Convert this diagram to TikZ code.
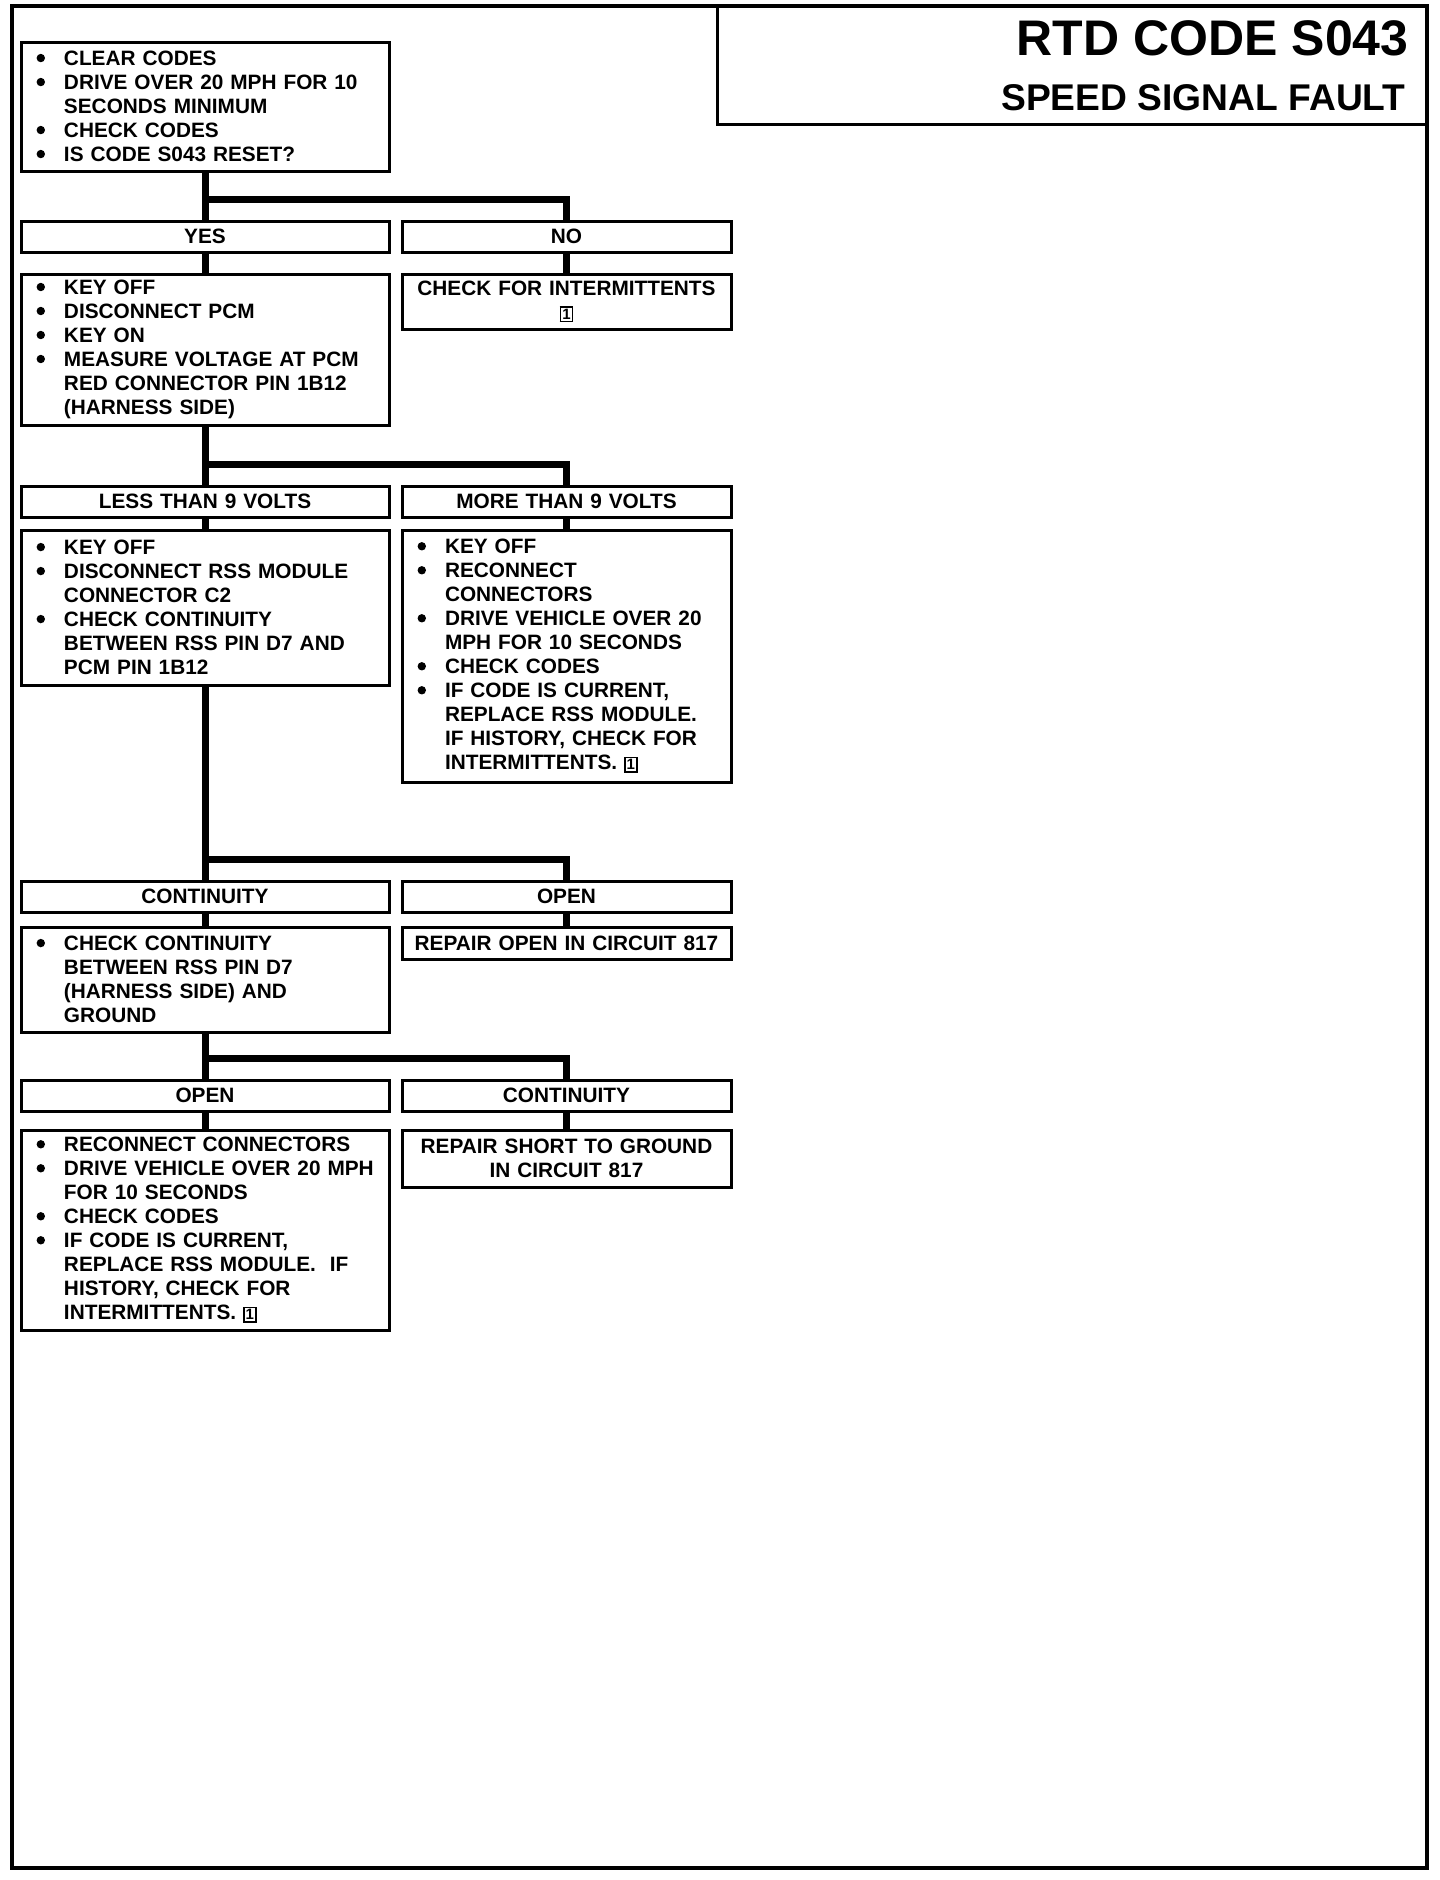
\documentclass[tikz,border=0pt]{standalone}
\usepackage{fontspec}
\setmainfont{Liberation Sans}
\usetikzlibrary{positioning}
\definecolor{scanBlack}{HTML}{000000}
\newcommand{\bl}{\makebox[20.5pt][l]{\hspace{6.8pt}\tikz[baseline=-3.8pt]\fill[scanBlack] (0,0) circle (2.1pt);}}
\newcommand{\cl}{\makebox[20.5pt]{}}
\newcommand{\refone}{{\fboxsep=0.7pt\fboxrule=0.7pt\fbox{\fontsize{7.5}{7.5}\selectfont\makebox[4pt]{1}}}}

\begin{document}
\begin{tikzpicture}[font=\bfseries\fontsize{10.4}{12}\selectfont,
      stepbox/.style={draw=scanBlack, line width=1.5pt, align=left, inner xsep=1pt, inner ysep=0pt, outer sep=0pt},
      leftcol/.style={text width=182pt},
      rightcol/.style={text width=162.5pt},
      answer/.style={stepbox, align=center, minimum height=15.5pt},
      titlebox/.style={draw=scanBlack, line width=1.5pt, inner sep=0pt, outer sep=0pt},
      wire/.style={line width=3.5pt, scanBlack}]
    \useasboundingbox (0,0) rectangle (720pt,-940pt);
    \draw[line width=2pt, scanBlack] (6pt,-3pt) rectangle (713.5pt,-934pt);
    % title block
    \node[titlebox, anchor=north east, minimum width=355pt, minimum height=59pt] (title) at (713.5pt,-3pt) {};
    \node[anchor=base east, inner sep=0pt, font=\bfseries\fontsize{25}{30}\selectfont] (code)
      at ([shift={(-9pt,-24.5pt)}]title.north east) {RTD CODE S043};
    \node[anchor=base east, inner sep=0pt, font=\bfseries\fontsize{18.6}{22}\selectfont] (fault)
      at ([shift={(-10.5pt,-52pt)}]title.north east) {SPEED SIGNAL FAULT};
    % first test
    \node[stepbox, leftcol, minimum height=64.5pt, anchor=north west] (clear) at (10.5pt,-21pt)
      {\bl CLEAR CODES\\ \bl DRIVE OVER 20 MPH FOR 10\\ \cl SECONDS MINIMUM\\ \bl CHECK CODES\\ \bl IS CODE S043 RESET?};
    \node[answer, leftcol, below=25pt of clear] (yes) {YES};
    \node[answer, rightcol, right=6.5pt of yes] (no) {NO};
    \node[stepbox, leftcol, minimum height=75.5pt, below=11pt of yes] (keyoff)
      {\bl KEY OFF\\ \bl DISCONNECT PCM\\ \bl KEY ON\\ \bl MEASURE VOLTAGE AT PCM\\ \cl RED CONNECTOR PIN 1B12\\ \cl (HARNESS SIDE)};
    \node[stepbox, rightcol, align=center, minimum height=27.5pt, below=11pt of no] (intermit)
      {CHECK FOR INTERMITTENTS\\ \refone};
    % voltage at 1B12
    \node[answer, leftcol, below=30.5pt of keyoff] (less) {LESS THAN 9 VOLTS};
    \node[answer, rightcol, right=6.5pt of less] (more) {MORE THAN 9 VOLTS};
    \node[stepbox, leftcol, minimum height=77.5pt, below=6.5pt of less] (rssc2)
      {\bl KEY OFF\\ \bl DISCONNECT RSS MODULE\\ \cl CONNECTOR C2\\ \bl CHECK CONTINUITY\\ \cl BETWEEN RSS PIN D7 AND\\ \cl PCM PIN 1B12};
    \node[stepbox, rightcol, minimum height=126pt, below=6.5pt of more] (replace)
      {\bl KEY OFF\\ \bl RECONNECT\\ \cl CONNECTORS\\ \bl DRIVE VEHICLE OVER 20\\ \cl MPH FOR 10 SECONDS\\ \bl CHECK CODES\\
       \bl IF CODE IS CURRENT,\\ \cl REPLACE RSS MODULE.\\ \cl IF HISTORY, CHECK FOR\\ \cl INTERMITTENTS. \refone};
    % circuit 817
    \node[answer, leftcol, below=98pt of rssc2] (cont) {CONTINUITY};
    \node[answer, rightcol, right=6.5pt of cont] (open) {OPEN};
    \node[stepbox, leftcol, minimum height=52.5pt, below=7.5pt of cont] (ground)
      {\bl CHECK CONTINUITY\\ \cl BETWEEN RSS PIN D7\\ \cl (HARNESS SIDE) AND\\ \cl GROUND};
    \node[stepbox, rightcol, align=center, minimum height=16pt, below=7.5pt of open] (repopen)
      {REPAIR OPEN IN CIRCUIT 817};
    % short to ground
    \node[answer, leftcol, below=24pt of ground] (opentwo) {OPEN};
    \node[answer, rightcol, right=6.5pt of opentwo] (conttwo) {CONTINUITY};
    \node[stepbox, leftcol, minimum height=100pt, below=9.5pt of opentwo] (final)
      {\bl RECONNECT CONNECTORS\\ \bl DRIVE VEHICLE OVER 20 MPH\\ \cl FOR 10 SECONDS\\ \bl CHECK CODES\\ \bl IF CODE IS CURRENT,\\
       \cl REPLACE RSS MODULE.\ \ IF\\ \cl HISTORY, CHECK FOR\\ \cl INTERMITTENTS. \refone};
    \node[stepbox, rightcol, align=center, minimum height=28.5pt, below=9.5pt of conttwo] (repshort)
      {REPAIR SHORT TO GROUND\\ IN CIRCUIT 817};
    % connectors
    \coordinate[above=11pt of yes] (j1);
    \coordinate[above=11pt of less] (j2);
    \coordinate[above=11pt of cont] (j3);
    \coordinate[above=11pt of opentwo] (j4);
    \draw[wire] (clear) -- (yes);
    \draw[wire] (j1) -| (no);
    \draw[wire] (yes) -- (keyoff);
    \draw[wire] (no) -- (intermit);
    \draw[wire] (keyoff) -- (less);
    \draw[wire] (j2) -| (more);
    \draw[wire] (less) -- (rssc2);
    \draw[wire] (more) -- (replace);
    \draw[wire] (rssc2) -- (cont);
    \draw[wire] (j3) -| (open);
    \draw[wire] (cont) -- (ground);
    \draw[wire] (open) -- (repopen);
    \draw[wire] (ground) -- (opentwo);
    \draw[wire] (j4) -| (conttwo);
    \draw[wire] (opentwo) -- (final);
    \draw[wire] (conttwo) -- (repshort);
  \end{tikzpicture}
\end{document}
